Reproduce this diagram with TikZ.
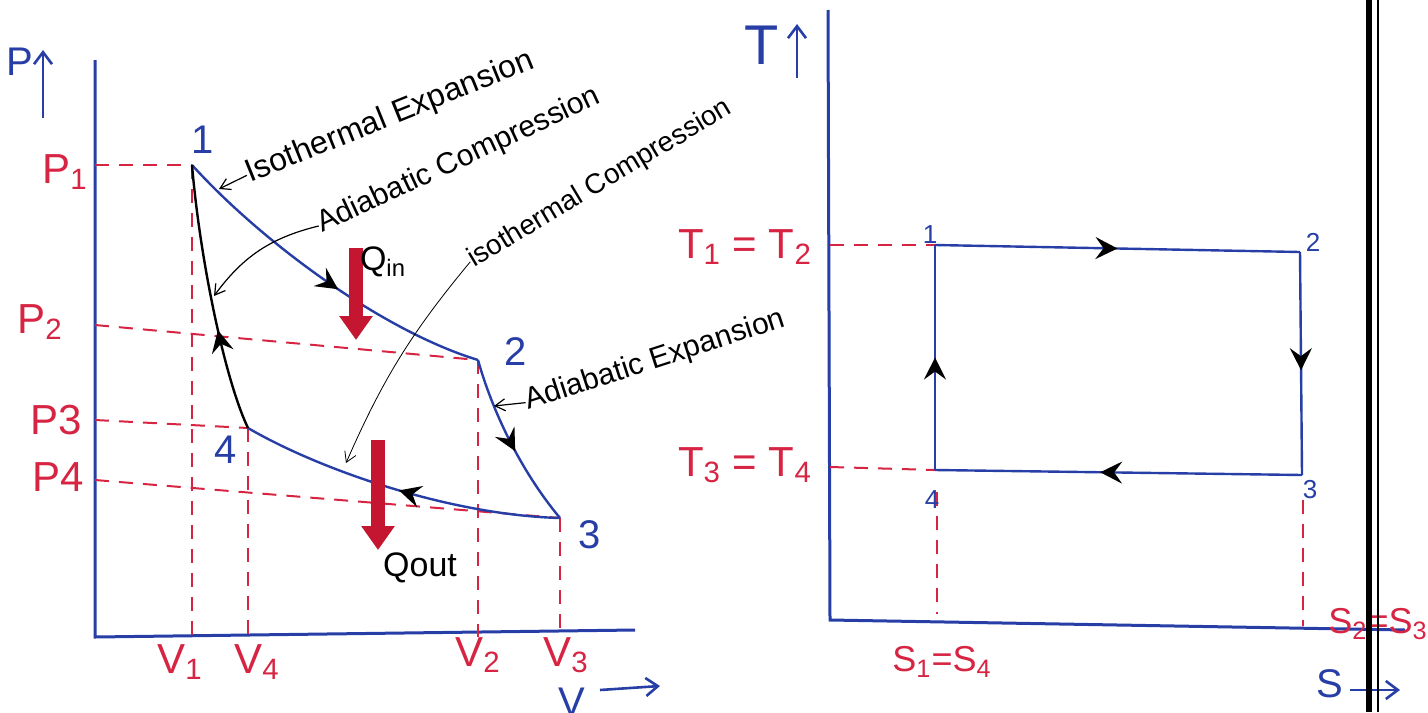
\documentclass[tikz,border=0pt]{standalone}
\usepackage{fontspec}
\setmainfont{Liberation Sans}
\usetikzlibrary{arrows.meta,decorations.markings}

\definecolor{inkblue}{RGB}{38,62,165}
\definecolor{inkred}{RGB}{214,36,66}
\definecolor{heatred}{RGB}{196,22,48}

\newcommand{\lsub}[1]{\textsubscript{#1}}

\tikzset{
  axis/.style={inkblue,line width=1.5pt},
  axisarrow/.style={inkblue,line width=1.3pt,-{Straight Barb[length=6pt,width=9pt]}},
  guide/.style={inkred,line width=1pt,dash pattern=on 7pt off 5pt},
  proc/.style={inkblue,line width=1.2pt},
  midarrow/.style={postaction={decorate,decoration={markings,
      mark=at position #1 with {\arrow[black]{Stealth[length=11pt,width=11pt,inset=4pt]}}}}},
  redlbl/.style={inkred,font=\fontsize{21}{23}\selectfont},
  ptlbl/.style={inkblue,font=\fontsize{20}{22}\selectfont},
  smallpt/.style={inkblue,font=\fontsize{13}{15}\selectfont},
  note/.style={black,font=\fontsize{15}{17}\selectfont,anchor=base west,inner sep=0pt},
  notearrow/.style={black,line width=0.6pt,-{Straight Barb[length=5pt,width=6pt]}},
  heat/.style={heatred,line width=7pt,-{Triangle[length=12pt,width=16pt]}},
  qlbl/.style={black,font=\fontsize{17}{19}\selectfont},
}

\begin{document}
\begin{tikzpicture}[x=0.5pt,y=-0.5pt]
  \useasboundingbox (0,0) rectangle (1428,712);

  % Eixos P-V
  \coordinate (O) at (95,637);
  \coordinate (Ptop) at (95,60);
  \coordinate (Vend) at (635,630);
  \draw[axis] (Ptop) -- (O) -- (Vend);

  % Punts del cicle
  \coordinate (p1) at (192,165);
  \coordinate (p2) at (478,360);
  \coordinate (p3) at (560,518);
  \coordinate (p4) at (248,428);

  % Linies de pressio i de volum
  \foreach \i/\y in {1/165,2/325,3/420,4/480}
    \coordinate (a\i) at (95,\y);
  \foreach \a/\p in {1/1,2/2,3/4,4/3}
    \draw[guide] (a\a) -- (p\p);
  \foreach \i in {1,...,4}
    \draw[guide] (p\i) -- (p\i |- O);

  % Corbes del cicle
  \draw[proc,midarrow=0.55] (p1) .. controls (260,240) and (380,330) .. (p2);
  \draw[proc,midarrow=0.55] (p2) .. controls (492,410) and (520,470) .. (p3);
  \draw[proc,midarrow=0.5] (p3) .. controls (450,515) and (320,470) .. (p4);
  \draw[proc,black,midarrow=0.38] (p4) .. controls (225,380) and (200,260) .. (p1);

  % Calor
  \coordinate (qi1) at (356,248);
  \coordinate (qi2) at (356,340);
  \draw[heat] (qi1) -- (qi2);
  \node[qlbl] (qin) at (383,262) {Q\lsub{in}};
  \coordinate (qo1) at (378,440);
  \coordinate (qo2) at (378,550);
  \draw[heat] (qo1) -- (qo2);
  \node[qlbl] (qout) at (420,568) {Qout};

  % Numeros
  \node[ptlbl] (n1) at (203,140) {1};
  \node[ptlbl] (n2) at (516,352) {2};
  \node[ptlbl] (n3) at (590,535) {3};
  \node[ptlbl] (n4) at (226,450) {4};

  % Etiquetes P i V
  \node[redlbl] (lp1) at (65,172) {P\lsub{1}};
  \node[redlbl] (lp2) at (40,322) {P\lsub{2}};
  \node[redlbl] (lp3) at (56,420) {P3};
  \node[redlbl] (lp4) at (58,477) {P4};
  \node[redlbl] (lv1) at (180,662) {V\lsub{1}};
  \node[redlbl] (lv4) at (257,662) {V\lsub{4}};
  \node[redlbl] (lv2) at (478,655) {V\lsub{2}};
  \node[redlbl] (lv3) at (566,655) {V\lsub{3}};

  % Noms dels eixos
  \node[ptlbl] (lP) at (20,62) {P};
  \coordinate (pa1) at (43,118);
  \coordinate (pa2) at (43,50);
  \draw[axisarrow] (pa1) -- (pa2);
  \node[ptlbl] (lV) at (572,702) {V};
  \coordinate (va1) at (600,690);
  \coordinate (va2) at (660,686);
  \draw[axisarrow] (va1) -- (va2);

  % Anotacions
  \node[note,rotate=22,font=\fontsize{16}{18}\selectfont] (nIE) at (250,183) {Isothermal Expansion};
  \coordinate (cIE) at (219,189);
  \draw[notearrow] (nIE.west) -- (cIE);
  \node[note,rotate=25] (nAC) at (322,233) {Adiabatic Compression};
  \coordinate (cAC) at (214,296);
  \draw[notearrow] (nAC.west) to[bend right=20] (cAC);
  \node[note,rotate=31,font=\fontsize{14}{16}\selectfont] (nIC) at (474,268) {isothermal Compression};
  \coordinate (cIC) at (346,463);
  \draw[notearrow,line width=0.4pt] (nIC.west) to[bend right=8] (cIC);
  \node[note,rotate=18] (nAE) at (528,410) {Adiabatic Expansion};
  \coordinate (cAE) at (494,406);
  \draw[notearrow] (nAE.west) -- (cAE);

  % Eixos T-S
  \coordinate (O2) at (830,620);
  \coordinate (Ttop) at (828,10);
  \coordinate (Send) at (1405,630);
  \draw[axis] (Ttop) -- (O2) -- (Send);

  % Punts T-S
  \coordinate (t1) at (935,245);
  \coordinate (t2) at (1300,252);
  \coordinate (t3) at (1302,475);
  \coordinate (t4) at (935,470);

  % Linies discontinues
  \coordinate (b1) at (830,245);
  \coordinate (b4) at (830,467);
  \draw[guide] (b1) -- (t1);
  \draw[guide] (b4) -- (t4);
  \coordinate (d4) at (937,492);
  \coordinate (e4) at (937,614);
  \coordinate (d3) at (1303,500);
  \coordinate (e3) at (1303,626);
  \draw[guide] (d4) -- (e4);
  \draw[guide] (d3) -- (e3);

  % Cicle T-S
  \draw[proc,midarrow=0.5] (t1) -- (t2);
  \draw[proc,midarrow=0.53] (t2) -- (t3);
  \draw[proc,midarrow=0.55] (t3) -- (t4);
  \draw[proc,midarrow=0.5] (t4) -- (t1);

  \node[smallpt] (m1) at (930,235) {1};
  \node[smallpt] (m2) at (1313,242) {2};
  \node[smallpt] (m3) at (1310,490) {3};
  \node[smallpt] (m4) at (932,500) {4};

  % Etiquetes T i S
  \node[redlbl] (lt12) at (745,247) {T\lsub{1} = T\lsub{2}};
  \node[redlbl] (lt34) at (745,465) {T\lsub{3} = T\lsub{4}};
  \node[redlbl,font=\fontsize{18}{20}\selectfont] (ls14) at (942,662) {S\lsub{1}=S\lsub{4}};
  \node[redlbl,font=\fontsize{18}{20}\selectfont] (ls23) at (1378,624) {S\lsub{2}=S\lsub{3}};

  \node[ptlbl,font=\fontsize{28}{30}\selectfont] (lT) at (762,45) {T};
  \coordinate (ta1) at (797,78);
  \coordinate (ta2) at (797,24);
  \draw[axisarrow] (ta1) -- (ta2);
  \node[ptlbl] (lS) at (1330,684) {S};
  \coordinate (sa1) at (1350,690);
  \coordinate (sa2) at (1400,690);
  \draw[axisarrow] (sa1) -- (sa2);

  % Vora
  \draw[line width=3pt] (1369,0) -- (1369,712);
  \draw[line width=1pt] (1378,0) -- (1378,712);
\end{tikzpicture}
\end{document}
